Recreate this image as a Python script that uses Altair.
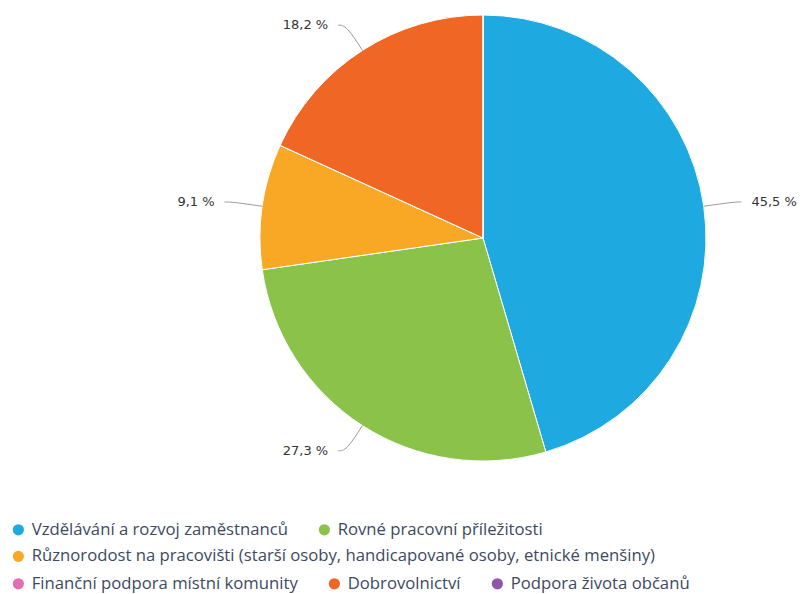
import altair as alt
import pandas as pd

categories = [
    "Vzdělávání a rozvoj zaměstnanců",
    "Rovné pracovní příležitosti",
    "Různorodost na pracovišti (starší osoby, handicapované osoby, etnické menšiny)",
    "Finanční podpora místní komunity",
    "Dobrovolnictví",
    "Podpora života občanů",
]
values = [45.5, 27.3, 9.1, 0.0, 18.2, 0.0]
colors = ["#1fa9e1", "#8bc34a", "#f9a825", "#e46fb0", "#f06725", "#8e55a8"]

legend_rows = [categories[0:2], categories[2:3], categories[3:6]]

df = pd.DataFrame({"cat": categories, "v": values, "idx": list(range(len(categories)))})

W, H = 801, 594
CX, CY = 483, 238
R = 223
RL = 253

base = alt.Chart(df)

label_font = "Open Sans"

def pie_layer(rows, lx, ly):
    return base.mark_arc(outerRadius=R, stroke="white", strokeWidth=1).encode(
        theta=alt.Theta("v:Q", stack=True),
        order=alt.Order("idx:Q"),
        color=alt.Color(
            "cat:N",
            scale=alt.Scale(domain=categories, range=colors),
            legend=alt.Legend(
                values=rows,
                orient="none",
                legendX=lx,
                legendY=ly,
                direction="horizontal",
                title=None,
                symbolType="circle",
                symbolSize=125,
                symbolStrokeWidth=0,
                labelFont=label_font,
                labelFontSize=16.7,
                labelColor="#3d4a5e",
                labelLimit=800,
                labelOffset=5,
                columnPadding=28,
            ),
        ),
        x=alt.value(CX),
        y=alt.value(CY),
    )

pies = [
    pie_layer(legend_rows[0], 10, 521),
    pie_layer(legend_rows[1], 10, 548),
    pie_layer(legend_rows[2], 10, 575),
]

xs = alt.Scale(domain=[0, W], range=[0, W])
ys = alt.Scale(domain=[0, H], range=[0, H])

geo = (
    base.transform_filter("datum.v > 0")
    .transform_window(cum="sum(v)", sort=[alt.SortField("idx")])
    .transform_joinaggregate(total="sum(v)")
    .transform_calculate(mid="(datum.cum - datum.v/2) / datum.total * 2 * PI")
    .transform_calculate(side="sin(datum.mid) >= 0 ? 1 : -1")
)

conn = (
    geo.transform_calculate(ks="[0, 1, 2]")
    .transform_flatten(["ks"], as_=["k"])
    .transform_calculate(
        px=f"datum.k == 0 ? {CX} + {R}*sin(datum.mid) : {CX} + {RL}*sin(datum.mid) + (datum.k == 2 ? datum.side*8 : 0)",
        py=f"datum.k == 0 ? {CY} - {R}*cos(datum.mid) : {CY} - {RL}*cos(datum.mid)",
    )
    .mark_line(color="#999999", strokeWidth=1, interpolate="basis")
    .encode(
        x=alt.X("px:Q", scale=xs, axis=None),
        y=alt.Y("py:Q", scale=ys, axis=None),
        detail="cat:N",
        order="k:Q",
    )
)

lbl = geo.transform_calculate(
    tx=f"{CX} + {RL}*sin(datum.mid) + datum.side*18",
    ty=f"{CY} - {RL}*cos(datum.mid)",
    txt="replace(format(datum.v, '.1f'), '.', ',') + ' %'",
)

right_lbl = lbl.transform_filter("datum.side > 0").mark_text(
    align="left", baseline="middle", font="DejaVu Sans", fontSize=13, color="#333333"
).encode(x=alt.X("tx:Q", scale=xs, axis=None), y=alt.Y("ty:Q", scale=ys, axis=None), text="txt:N")

left_lbl = lbl.transform_filter("datum.side < 0").mark_text(
    align="right", baseline="middle", font="DejaVu Sans", fontSize=13, color="#333333"
).encode(x=alt.X("tx:Q", scale=xs, axis=None), y=alt.Y("ty:Q", scale=ys, axis=None), text="txt:N")

chart = (
    alt.layer(*pies, conn, right_lbl, left_lbl)
    .resolve_scale(color="independent")
    .properties(width=W, height=H, padding=0, autosize=alt.AutoSizeParams(type="none"))
    .configure_view(stroke=None)
)

chart.save("out.html", embed_options={"renderer": "svg", "actions": False})
